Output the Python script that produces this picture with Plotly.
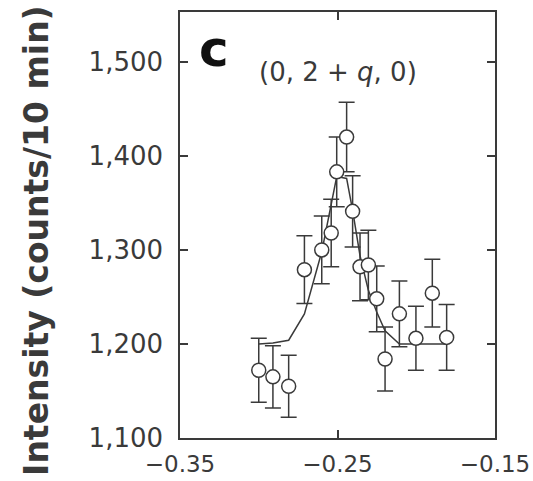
import plotly.graph_objects as go

q = [-0.300, -0.291, -0.281, -0.271, -0.260, -0.254, -0.2505, -0.2442, -0.2404,
     -0.2357, -0.2304, -0.2251, -0.2198, -0.2107, -0.2002, -0.1898, -0.1807]
intensity = [1172, 1165, 1155, 1279, 1300, 1318, 1383, 1420, 1341,
             1282, 1284, 1248, 1184, 1232, 1206, 1254, 1207]
err = [34, 33, 33, 36, 36, 36, 37, 37, 38, 36, 37, 35, 34, 35, 34, 36, 35]
fit = [1200, 1201, 1204, 1232, 1298, 1348, 1378, 1376, 1342,
       1294, 1257, 1234, 1214, 1200, 1200, 1200, 1200]

xticks = [-0.35, -0.25, -0.15]
xticklabels = ["\u22120.35", "\u22120.25", "\u22120.15"]
yticks = [1100, 1200, 1300, 1400, 1500]
yticklabels = ["1,100", "1,200", "1,300", "1,400", "1,500"]

ink = "#3a3a3a"
fig = go.Figure()
fig.add_trace(go.Scatter(x=q, y=fit, mode="lines",
                         line=dict(color=ink, width=1.5), showlegend=False))
fig.add_trace(go.Scatter(
    x=q, y=intensity, mode="markers",
    marker=dict(symbol="circle", size=14, color="white",
                line=dict(color=ink, width=1.5)),
    error_y=dict(type="data", array=err, visible=True, color=ink,
                 thickness=1.5, width=8),
    showlegend=False))

axis_common = dict(showline=True, linecolor=ink, linewidth=1.5, mirror="allticks",
                   ticks="inside", ticklen=8, tickwidth=1.5, tickcolor=ink,
                   showgrid=False, zeroline=False, ticklabeloverflow="allow")
fig.update_xaxes(range=[-0.35, -0.15], tickvals=xticks, ticktext=xticklabels,
                 ticklabelstandoff=5,
                 tickfont=dict(family="DejaVu Sans", size=23, color=ink), **axis_common)
fig.update_yaxes(range=[1100, 1553], tickvals=yticks, ticktext=yticklabels,
                 ticklabelstandoff=10,
                 tickfont=dict(family="DejaVu Sans", size=26, color=ink), **axis_common)

fig.add_annotation(xref="paper", yref="paper", x=-0.454, y=0.465,
                   text="<b>Intensity (counts/10 min)</b>", textangle=-90,
                   xanchor="center", yanchor="middle", showarrow=False,
                   font=dict(family="DejaVu Sans", size=33, color=ink))
fig.add_annotation(xref="paper", yref="paper", x=0.108, y=0.913, text="<b>c</b>",
                   xanchor="center", yanchor="middle",
                   showarrow=False, font=dict(family="DejaVu Sans", size=50, color="#111"))
fig.add_annotation(xref="paper", yref="paper", x=0.502, y=0.859,
                   xanchor="center", yanchor="middle",
                   text="(0, 2 + <i>q</i>, 0)", showarrow=False,
                   font=dict(family="DejaVu Sans", size=26, color=ink))

fig.update_layout(width=533, height=481, margin=dict(l=180, r=38, t=12, b=43, autoexpand=False),
                  paper_bgcolor="white", plot_bgcolor="white")
fig.write_html("out.html")
